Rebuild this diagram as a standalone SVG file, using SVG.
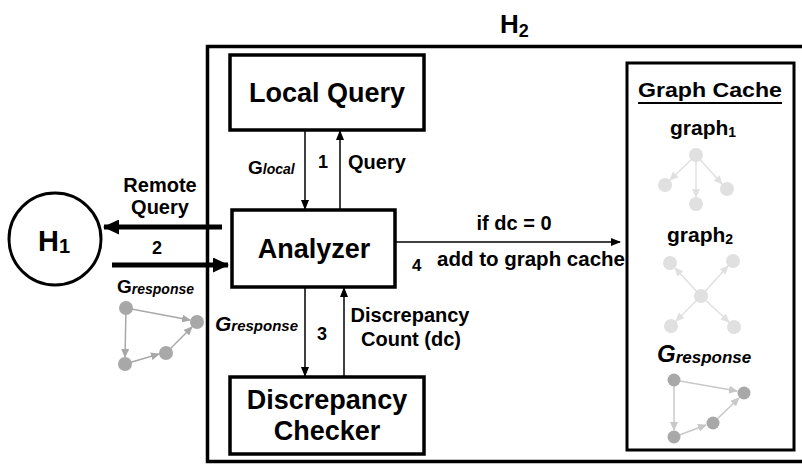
<svg xmlns="http://www.w3.org/2000/svg" width="802" height="464" viewBox="0 0 802 464">
<style>
text{font-family:"Liberation Sans",Arial,sans-serif;font-weight:bold;fill:#000}
.box{fill:#fff;stroke:#000;stroke-width:3.5}
.ln{stroke:#000;stroke-width:1.5;fill:none}
.thick{stroke:#000;stroke-width:5;fill:none}
.lbl{font-size:20px}
.big{font-size:27px}
.g1 circle{fill:#e0e0e0}
.g1 line{stroke:#e0e0e0;stroke-width:1.5}
.g3 circle{fill:#a8a8a8}
.g3 line{stroke:#c8c8c8;stroke-width:1.5}
.g4 circle{fill:#a8a8a8}
.g4 line{stroke:#a8a8a8;stroke-width:1.5}
</style>
<defs>
<marker id="ah" markerWidth="10" markerHeight="8" refX="9" refY="4" orient="auto" markerUnits="userSpaceOnUse"><path d="M0,0 L10,4 L0,8 z" fill="#000"/></marker>
<marker id="ahb" markerWidth="16" markerHeight="15" refX="15" refY="7.5" orient="auto" markerUnits="userSpaceOnUse"><path d="M0,0 L16,7.5 L0,15 z" fill="#000"/></marker>
<marker id="al" markerWidth="9" markerHeight="8" refX="8" refY="4" orient="auto" markerUnits="userSpaceOnUse"><path d="M0,0 L9,4 L0,8 z" fill="#e0e0e0"/></marker>
<marker id="am" markerWidth="9" markerHeight="8" refX="8" refY="4" orient="auto" markerUnits="userSpaceOnUse"><path d="M0,0 L9,4 L0,8 z" fill="#c8c8c8"/></marker>
<marker id="ad" markerWidth="9" markerHeight="8" refX="8" refY="4" orient="auto" markerUnits="userSpaceOnUse"><path d="M0,0 L9,4 L0,8 z" fill="#a8a8a8"/></marker>
</defs>

<g id="H2">
<rect x="207.5" y="46.5" width="600" height="415" fill="none" stroke="#000" stroke-width="3.5"/>
<text x="500" y="33" font-size="26">H<tspan font-size="18" dy="4">2</tspan></text>
</g>

<g id="H1">
<circle cx="55" cy="239" r="46" fill="#fff" stroke="#000" stroke-width="3"/>
<text x="38" y="251" font-size="29">H<tspan font-size="20" dy="2">1</tspan></text>
</g>

<g id="local-query">
<rect class="box" x="230" y="55" width="194" height="75"/>
<text class="big" x="327" y="102" text-anchor="middle" font-size="26">Local Query</text>
</g>

<g id="analyzer">
<rect class="box" x="232" y="210" width="163" height="77"/>
<text class="big" x="314" y="258" text-anchor="middle">Analyzer</text>
</g>

<g id="discrepancy-checker">
<rect class="box" x="230" y="377" width="194" height="77"/>
<text class="big" x="327" y="409" text-anchor="middle">Discrepancy</text>
<text class="big" x="327" y="440" text-anchor="middle">Checker</text>
</g>

<g id="graph-cache">
<rect x="627" y="63" width="167" height="387" fill="#fff" stroke="#000" stroke-width="3"/>
<text x="710" y="97" text-anchor="middle" font-size="21" textLength="144" lengthAdjust="spacingAndGlyphs">Graph Cache</text>
<line x1="638" y1="103" x2="782" y2="103" stroke="#000" stroke-width="2"/>
<text x="670" y="135" font-size="21">graph<tspan font-size="14" dy="2">1</tspan></text>
<g class="g1">
<line x1="696" y1="155" x2="670" y2="180" marker-end="url(#al)"/>
<line x1="696" y1="155" x2="696" y2="197" marker-end="url(#al)"/>
<line x1="696" y1="155" x2="722" y2="184" marker-end="url(#al)"/>
<circle cx="696" cy="155" r="7"/><circle cx="665" cy="185" r="7"/><circle cx="696" cy="204" r="7"/><circle cx="727" cy="189" r="7"/>
</g>
<text x="667" y="242" font-size="21">graph<tspan font-size="14" dy="2">2</tspan></text>
<g class="g1">
<line x1="701" y1="296" x2="675" y2="268" marker-end="url(#al)"/>
<line x1="701" y1="296" x2="728" y2="266" marker-end="url(#al)"/>
<line x1="701" y1="296" x2="676" y2="321" marker-end="url(#al)"/>
<line x1="701" y1="296" x2="729" y2="322" marker-end="url(#al)"/>
<circle cx="670" cy="263" r="7"/><circle cx="733" cy="261" r="7"/><circle cx="701" cy="296" r="7"/><circle cx="671" cy="326" r="7"/><circle cx="734" cy="327" r="7"/>
</g>
<text x="657" y="362" font-style="italic" font-size="24">G<tspan font-size="17" dy="1">response</tspan></text>
<g class="g3">
<line x1="674" y1="380" x2="737" y2="391" marker-end="url(#am)"/>
<line x1="674" y1="380" x2="674" y2="430" marker-end="url(#am)"/>
<line x1="674" y1="437" x2="706" y2="425" marker-end="url(#am)"/>
<line x1="713" y1="423" x2="739" y2="398" marker-end="url(#am)"/>
<circle cx="674" cy="380" r="6.5"/><circle cx="744" cy="393" r="6.5"/><circle cx="674" cy="437" r="6.5"/><circle cx="713" cy="423" r="6.5"/>
</g>
</g>

<g id="remote-graph">
<text x="117" y="293" font-size="19">G<tspan font-style="italic" font-size="14" dy="1">response</tspan></text>
<g class="g4">
<line x1="126" y1="308" x2="190" y2="320" marker-end="url(#ad)"/>
<line x1="126" y1="308" x2="125" y2="357" marker-end="url(#ad)"/>
<line x1="125" y1="364" x2="159" y2="354" marker-end="url(#ad)"/>
<line x1="166" y1="353" x2="192" y2="327" marker-end="url(#ad)"/>
<circle cx="126" cy="308" r="7"/><circle cx="197" cy="322" r="7"/><circle cx="125" cy="364" r="7"/><circle cx="166" cy="353" r="7"/>
</g>
</g>

<g id="connectors">
<line class="ln" x1="305" y1="130" x2="305" y2="209" marker-end="url(#ah)"/>
<line class="ln" x1="340" y1="209" x2="340" y2="131" marker-end="url(#ah)"/>
<line class="ln" x1="305" y1="288" x2="305" y2="376" marker-end="url(#ah)"/>
<line class="ln" x1="344" y1="376" x2="344" y2="288" marker-end="url(#ah)"/>
<line class="ln" x1="396" y1="242" x2="620" y2="242" marker-end="url(#ah)"/>
<line class="thick" x1="222" y1="227" x2="104" y2="227" marker-end="url(#ahb)"/>
<line class="thick" x1="112" y1="265" x2="228" y2="265" marker-end="url(#ahb)"/>
</g>

<g id="labels">
<text x="248" y="174" font-size="19">G<tspan font-style="italic" font-size="14">local</tspan></text>
<text x="318" y="168" font-size="18">1</text>
<text class="lbl" x="348" y="169">Query</text>
<text x="215" y="331" font-style="italic" font-size="21">G<tspan font-size="15">response</tspan></text>
<text x="317" y="340" font-size="18">3</text>
<text class="lbl" x="410" y="322" text-anchor="middle">Discrepancy</text>
<text class="lbl" x="411" y="346" text-anchor="middle">Count (dc)</text>
<text class="lbl" x="514" y="230" text-anchor="middle">if dc = 0</text>
<text x="412" y="271" font-size="17">4</text>
<text class="lbl" x="437" y="266" textLength="188" lengthAdjust="spacingAndGlyphs">add to graph cache</text>
<text class="lbl" x="160" y="192" text-anchor="middle">Remote</text>
<text class="lbl" x="160" y="214" text-anchor="middle">Query</text>
<text x="157" y="254" text-anchor="middle" font-size="18">2</text>
</g>
</svg>
